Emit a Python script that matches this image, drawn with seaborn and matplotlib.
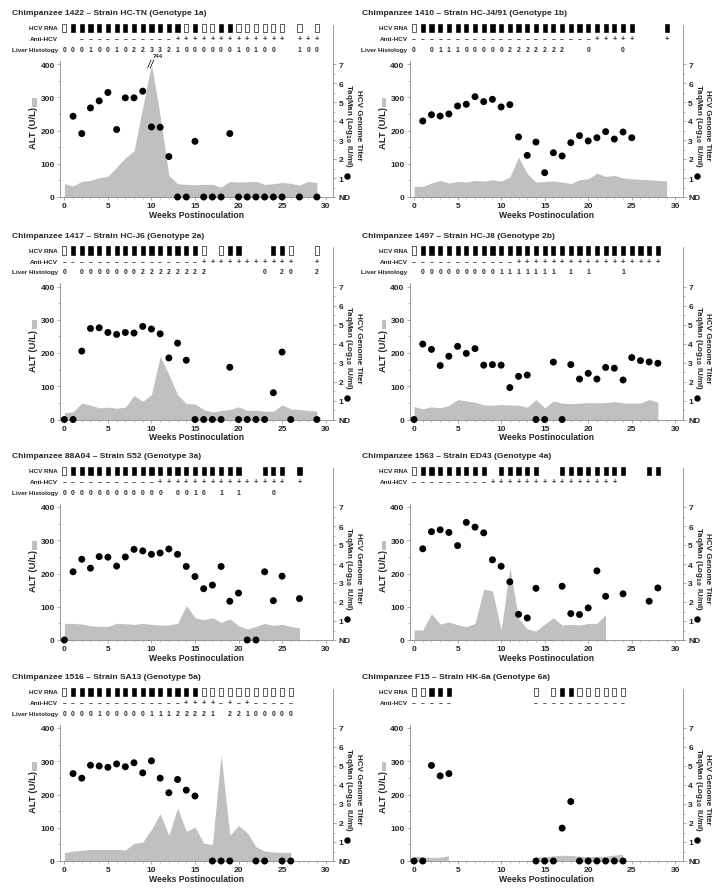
import numpy as np
import pandas as pd
import matplotlib
matplotlib.use("Agg")
import matplotlib.pyplot as plt
import seaborn as sns
from matplotlib.patches import Rectangle
from matplotlib.lines import Line2D
from matplotlib.ticker import MultipleLocator, FixedLocator, FixedFormatter
from matplotlib.transforms import blended_transform_factory

N = None
WEEKS = list(range(30))

# ---------------- data (one entry per week 0..29) ----------------
TITLE_1 = "Chimpanzee 1422 \u2013 Strain HC-TN (Genotype 1a)"
RNA_1 = "OXXXXXXXXXXXXXOXOOXXOOOOOO.O.O"
ANTI_1 = "..-----------+++++++++++++.+++"
LIVER_1 = "0001001022332100000010100..100"
ALT_1 = [40, 33, 47, 50, 58, 62, 90, 118, 139, 270, 744, 245, 65, 40, 38, 37, 38, 38, 30, 47,
         45, 46, 47, 38, 40, 44, 41, 36, 47, 43]
TITER_1 = [N, 4.25, 3.34, 4.69, 5.06, 5.5, 3.55, 5.22, 5.22, 5.57, 3.69, 3.67, 2.13, 0, 0, 2.93,
           0, 0, 0, 3.34, 0, 0, 0, 0, 0, 0, N, 0, N, 0]

TITLE_2 = "Chimpanzee 1410 \u2013 Strain HC-J4/91 (Genotype 1b)"
RNA_2 = "OXXXXXXXXXXXXXXXXXXXXXXXXX...X"
ANTI_2 = "---------------------+++++...+"
LIVER_2 = "0.0111000002222222..0...0....."
ALT_2 = [32, 32, 42, 50, 42, 47, 45, 50, 48, 52, 48, 60, 120, 70, 45, 47, 48, 45, 40, 52,
         55, 72, 62, 65, 57, 55, 53, 52, 50, 48]
TITER_2 = [N, 4.0, 4.33, 4.26, 4.37, 4.79, 4.88, 5.28, 5.02, 5.14, 4.74, 4.86, 3.16, 2.19, 2.89,
           1.28, 2.33, 2.16, 2.86, 3.23, 2.95, 3.12, 3.44, 3.05, 3.42, 3.12, N, N, N, N]

TITLE_3 = "Chimpanzee 1417 \u2013 Strain HC-J6 (Genotype 2a)"
RNA_3 = "OXXXXXXXXXXXXXXXO.OXX...XXO..O"
ANTI_3 = "----------------+++++++++++..+"
LIVER_3 = "0.000000022222222......0.20..2"
ALT_3 = [20, 23, 49, 43, 35, 37, 34, 37, 72, 55, 75, 190, 135, 75, 48, 47, 30, 23, 27, 30,
         38, 27, 28, 25, 25, 44, 32, 30, 27, 25]
TITER_3 = [0, 0, 3.6, 4.79, 4.83, 4.58, 4.48, 4.58, 4.55, 4.9, 4.76, 4.51, 3.24, 4.02, 3.12,
           0, 0, 0, 0, 2.75, 0, 0, 0, 0, 1.41, 3.55, 0, N, N, 0]

TITLE_4 = "Chimpanzee 1497 \u2013 Strain HC-J8 (Genotype 2b)"
RNA_4 = "OXXXXXXXXXXXXXXXXXXXXXXXXXXXX."
ANTI_4 = "------------+++++++++++++++++."
LIVER_4 = ".0000000001111111.1.1...1....."
ALT_4 = [39, 32, 38, 35, 42, 60, 56, 52, 44, 43, 45, 44, 43, 37, 60, 35, 56, 49, 48, 49,
         51, 50, 51, 54, 50, 49, 50, 60, 52, N]
TITER_4 = [0, 3.97, 3.69, 2.84, 3.33, 3.85, 3.48, 3.73, 2.86, 2.89, 2.86, 1.68, 2.27, 2.34, 0,
           0, 3.02, 0, 2.89, 2.13, 2.43, 2.13, 2.74, 2.7, 2.08, 3.26, 3.1, 3.03, 2.96, N]

TITLE_5 = "Chimpanzee 88A04 \u2013 Strain S52 (Genotype 3a)"
RNA_5 = "OXXXXXXXXXXXXXXXXXXXX..XXX.X.."
ANTI_5 = "-----------+++++++++++++++.+.."
LIVER_5 = "000000000000.0010.1.1...0....."
ALT_5 = [50, 50, 48, 43, 41, 41, 50, 49, 47, 50, 47, 45, 45, 50, 104, 67, 61, 67, 53, 64,
         43, 33, 41, 50, 44, 47, 41, 36, N, N]
TITER_5 = [0, 3.59, 4.25, 3.78, 4.39, 4.36, 3.89, 4.37, 4.77, 4.69, 4.51, 4.58, 4.79, 4.51,
           3.87, 3.34, 2.7, 2.89, 3.87, 2.04, 2.47, 0, 0, 3.59, 2.07, 3.36, N, 2.18, N, N]

TITLE_6 = "Chimpanzee 1563 \u2013 Strain ED43 (Genotype 4a)"
RNA_6 = "OXXXXXXXX.XXXXX..XXXXXXXX..XX."
ANTI_6 = "---------+++++++++++++++......"
LIVER_6 = None
ALT_6 = [30, 30, 79, 48, 54, 46, 40, 50, 153, 148, 30, 218, 65, 33, 27, 48, 67, 45, 47, 45,
         50, 50, 77, N, N, N, N, N, N, N]
TITER_6 = [N, 4.8, 5.7, 5.8, 5.66, 4.97, 6.19, 5.94, 5.64, 4.22, 3.88, 3.06, 1.35, 1.16, 2.72,
           N, N, 2.83, 1.39, 1.34, 1.69, 3.64, 2.3, N, 2.43, N, N, 2.04, 2.74, N]

TITLE_7 = "Chimpanzee 1516 \u2013 Strain SA13 (Genotype 5a)"
RNA_7 = "OXXXXXXXXXXXXXXXOOOOOOOOOOO..."
ANTI_7 = "--------------++++-+-+-----..."
LIVER_7 = "000010000011122221.22100000..."
ALT_7 = [25, 30, 32, 35, 35, 35, 35, 33, 53, 57, 95, 142, 77, 160, 89, 102, 54, 49, 320, 77,
         107, 85, 43, 30, 27, 26, 26, N, N, N]
TITER_7 = [N, 4.6, 4.36, 5.04, 5.0, 4.93, 5.11, 4.96, 5.17, 4.64, 5.27, 4.36, 3.59, 4.29, 3.73,
           3.42, N, 0, 0, 0, N, N, 0, 0, N, 0, 0, N, N, N]

TITLE_8 = "Chimpanzee F15 \u2013 Strain HK-6a (Genotype 6a)"
RNA_8 = "OOXXX.........O.OXXOOOOOO....."
ANTI_8 = "-----.........-----------....."
LIVER_8 = None
ALT_8 = [13, 11, 9, 10, 14, N, N, N, N, N, N, N, N, N, 11, 11, 14, 16, 15, 13,
         12, 12, 13, 16, 19, N, N, N, N, N]
TITER_8 = [0, 0, 5.03, 4.48, 4.6, N, N, N, N, N, N, N, N, N, 0, 0, 0, 1.73, 3.13, 0,
           0, 0, 0, 0, 0, N, N, N, N, N]

ALT_TICKS = [0, 100, 200, 300, 400]
TITER_TICKS = [0, 1, 2, 3, 4, 5, 6, 7]
TITER_LABELS = ["ND", "1", "2", "3", "4", "5", "6", "7"]
WEEK_TICKS = [0, 5, 10, 15, 20, 25, 30]

# ---------------- style / layout ----------------
sns.set_theme(style="ticks")
plt.rcParams["font.family"] = ["Liberation Sans", "DejaVu Sans"]
plt.rcParams["font.weight"] = "bold"
plt.rcParams["mathtext.default"] = "bf"

FIG_W, FIG_H = 721, 895
COL_LEFT_PX = [60.0, 409.7]
AX_W_PX = 273.0
ROW_ZERO_PX = [198.0, 420.5, 641.0, 862.0]
ALT_MAX = 400.0
ALT_TOP = 410.0
AX_H_PX = 133.0 * ALT_TOP / ALT_MAX
AREA_COLOR = "#c0c0c0"
SPINE_COLOR = "#8a8a8a"
Y_RNA, Y_ANTI, Y_LIVER, Y_TITLE = 1.24, 1.16, 1.083, 1.35
HDR_FS = 4.9

fig = plt.figure(figsize=(FIG_W / 100, FIG_H / 100), dpi=100)


def to_arr(vals):
    return np.array([np.nan if v is None else v for v in vals], dtype=float)


def draw_panel(idx, title, rna, anti, liver, alt, titer):
    row, col = divmod(idx, 2)
    ax = fig.add_axes([COL_LEFT_PX[col] / FIG_W, 1 - ROW_ZERO_PX[row] / FIG_H,
                       AX_W_PX / FIG_W, AX_H_PX / FIG_H])
    ax2 = ax.twinx()
    weeks = np.array(WEEKS, dtype=float)
    alt_arr = to_arr(alt)
    capped = np.where(np.isnan(alt_arr), np.nan, np.minimum(np.nan_to_num(alt_arr), ALT_MAX))
    ax.fill_between(weeks, 0, capped, color=AREA_COLOR, linewidth=0, zorder=1)

    # off-scale marker
    for w, v in zip(weeks, alt_arr):
        if not np.isnan(v) and v > ALT_MAX:
            for dx in (-0.28, 0.02):
                ax.plot([w + dx - 0.15, w + dx + 0.25], [ALT_MAX - 12, ALT_MAX + 12],
                        color="black", lw=0.6, clip_on=False, zorder=6)
                ax.plot([w + dx - 0.15 + 0.12, w + dx + 0.25 + 0.12], [ALT_MAX - 12, ALT_MAX + 12],
                        color="white", lw=0.6, clip_on=False, zorder=6)
            ax.text(w + 0.2, ALT_MAX + 18, f"{int(v)}", fontsize=4.4, ha="left",
                    va="bottom", clip_on=False)

    df = pd.DataFrame({"week": weeks, "titer": to_arr(titer)}).dropna()
    sns.scatterplot(data=df, x="week", y="titer", ax=ax2, color="black", s=25,
                    edgecolor="none", linewidth=0, legend=False, clip_on=False, zorder=5)

    ax.set_xlim(-0.5, 30.85)
    ax.set_ylim(0, ALT_TOP)
    ax2.set_ylim(0, 7 * ALT_TOP / ALT_MAX)

    ax.xaxis.set_major_locator(FixedLocator(WEEK_TICKS))
    ax.xaxis.set_minor_locator(MultipleLocator(1))
    ax.yaxis.set_major_locator(FixedLocator(ALT_TICKS))
    ax.yaxis.set_minor_locator(MultipleLocator(50))
    ax2.yaxis.set_major_locator(FixedLocator(TITER_TICKS))
    ax2.yaxis.set_major_formatter(FixedFormatter(TITER_LABELS))
    ax2.yaxis.set_minor_locator(MultipleLocator(0.5))

    for a in (ax, ax2):
        for s in a.spines.values():
            s.set_visible(False)
        a.set_xlabel("")
        a.set_ylabel("")
    for s in ("left", "bottom"):
        ax.spines[s].set_visible(True)
        ax.spines[s].set_color(SPINE_COLOR)
        ax.spines[s].set_linewidth(0.6)
    ax.add_line(Line2D([1, 1], [0, 1.265], transform=ax.transAxes, color=SPINE_COLOR,
                       lw=0.6, clip_on=False))

    ax.tick_params(axis="both", which="major", length=2.5, width=0.5, color=SPINE_COLOR,
                   labelsize=6, pad=1.2, direction="out")
    ax.tick_params(axis="both", which="minor", length=1.5, width=0.4, color=SPINE_COLOR,
                   direction="out")
    ax.tick_params(axis="y", which="both", left=True, right=False)
    ax.tick_params(axis="x", which="both", bottom=True, top=False)
    ax2.tick_params(axis="y", which="major", length=2.5, width=0.5, color=SPINE_COLOR,
                    labelsize=6, pad=1.5, direction="out", right=True, left=False)
    ax2.tick_params(axis="y", which="minor", length=1.5, width=0.4, color=SPINE_COLOR,
                    direction="out", right=True, left=False)
    for lab in ax.get_xticklabels() + ax.get_yticklabels() + ax2.get_yticklabels():
        lab.set_fontweight("bold")
    ax.patch.set_visible(False)

    # labels
    ax.text(0.5, -0.125, "Weeks Postinoculation", transform=ax.transAxes, ha="center",
            va="center", fontsize=6.2)
    ax.text(-0.097, 0.51, "ALT (U/L)", transform=ax.transAxes, rotation=90, ha="center",
            va="center", fontsize=6.8)
    ax.add_patch(Rectangle((-0.103, 0.662), 0.017, 0.066, transform=ax.transAxes,
                           color=AREA_COLOR, clip_on=False, lw=0))
    ax.text(1.071, 0.53, "HCV Genome Titer\nTaqMan (Log$_{10}$ IU/ml)", transform=ax.transAxes,
            rotation=270, ha="center", va="center", fontsize=5.8, linespacing=1.1,
            multialignment="center")
    ax.plot([1.053], [0.155], "o", color="black", ms=4.6, transform=ax.transAxes,
            clip_on=False, mec="none")
    ax.text(-0.175, Y_TITLE, title, transform=ax.transAxes, ha="left", va="center",
            fontsize=6.1)

    # header rows
    bt = blended_transform_factory(ax.transData, ax.transAxes)
    box_w, box_h = 0.48, 0.06
    rows = [("HCV RNA", Y_RNA, rna), ("Anti-HCV", Y_ANTI, anti)]
    if liver is not None:
        rows.append(("Liver Histology", Y_LIVER, liver))
    for name, yy, codes in rows:
        ax.text(-0.75, yy, name, transform=bt, ha="right", va="center", fontsize=4.6,
                clip_on=False)
    for w, c in zip(WEEKS, rna):
        if c in "XO":
            ax.add_patch(Rectangle((w - box_w / 2, Y_RNA - box_h / 2), box_w, box_h,
                                   transform=bt, facecolor="black" if c == "X" else "white",
                                   edgecolor="black", lw=0.45, clip_on=False))
    for w, c in zip(WEEKS, anti):
        if c == "-":
            ax.text(w, Y_ANTI, "\u2013", transform=bt, ha="center", va="center",
                    fontsize=HDR_FS, clip_on=False)
        elif c == "+":
            ax.text(w, Y_ANTI, "+", transform=bt, ha="center", va="center",
                    fontsize=HDR_FS + 0.3, clip_on=False)
    if liver is not None:
        for w, c in zip(WEEKS, liver):
            if c.isdigit():
                ax.text(w, Y_LIVER, c, transform=bt, ha="center", va="center",
                        fontsize=HDR_FS, clip_on=False)


PANELS = [
    (TITLE_1, RNA_1, ANTI_1, LIVER_1, ALT_1, TITER_1),
    (TITLE_2, RNA_2, ANTI_2, LIVER_2, ALT_2, TITER_2),
    (TITLE_3, RNA_3, ANTI_3, LIVER_3, ALT_3, TITER_3),
    (TITLE_4, RNA_4, ANTI_4, LIVER_4, ALT_4, TITER_4),
    (TITLE_5, RNA_5, ANTI_5, LIVER_5, ALT_5, TITER_5),
    (TITLE_6, RNA_6, ANTI_6, LIVER_6, ALT_6, TITER_6),
    (TITLE_7, RNA_7, ANTI_7, LIVER_7, ALT_7, TITER_7),
    (TITLE_8, RNA_8, ANTI_8, LIVER_8, ALT_8, TITER_8),
]

for i, p in enumerate(PANELS):
    draw_panel(i, *p)

fig.savefig("out.png", dpi=100)
